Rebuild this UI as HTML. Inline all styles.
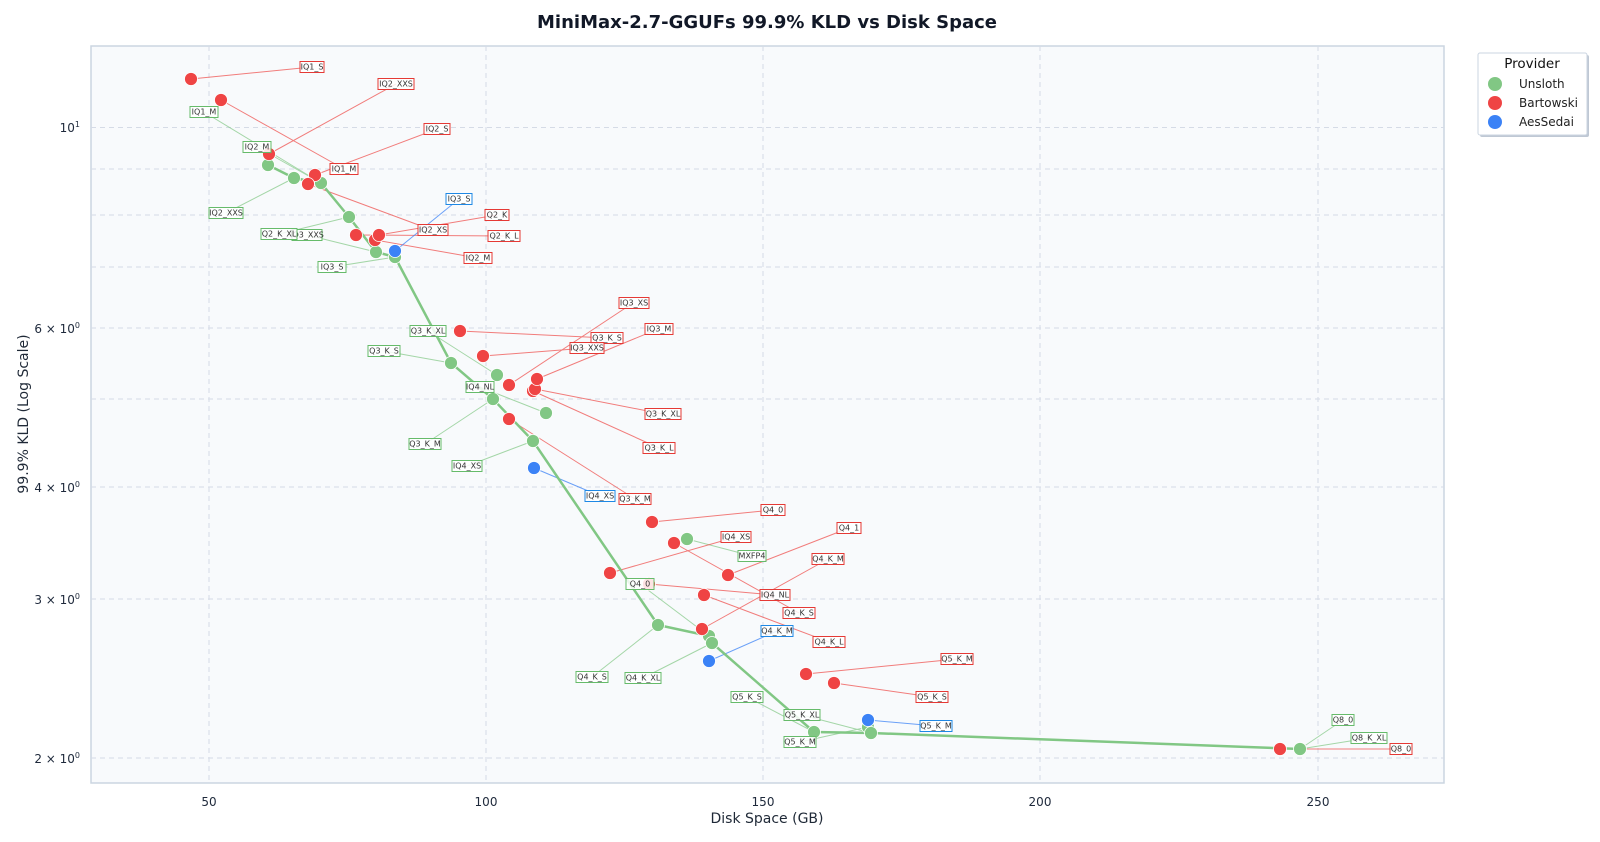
<!DOCTYPE html>
<html><head><meta charset="utf-8"><style>
html,body{margin:0;padding:0;background:#fff;}
svg{display:block;font-family:"DejaVu Sans","Liberation Sans",sans-serif;}
.lb rect{fill:#fff;fill-opacity:0.85;stroke-width:1;}
.lb text{font-size:8px;fill:#333;text-anchor:middle;dominant-baseline:central;}
.g rect{stroke:#66bb6a;} .r rect{stroke:#e53935;} .b rect{stroke:#1e88e5;}
.tk{font-size:12px;fill:#1e293b;}
</style></head><body>
<svg width="1600" height="842" viewBox="0 0 1600 842">
<text x="767" y="28" text-anchor="middle" font-size="18" font-weight="bold" fill="#111827">MiniMax-2.7-GGUFs 99.9% KLD vs Disk Space</text>
<rect x="91" y="46" width="1353" height="737" fill="#f8fafc" stroke="#cbd5e1" stroke-width="1.5"/>
<g stroke="#d5dbe6" stroke-dasharray="5,4" stroke-width="1">
<line x1="209" y1="46" x2="209" y2="783"/><line x1="486" y1="46" x2="486" y2="783"/><line x1="763" y1="46" x2="763" y2="783"/><line x1="1040" y1="46" x2="1040" y2="783"/><line x1="1318" y1="46" x2="1318" y2="783"/>
<line x1="91" y1="127.5" x2="1444" y2="127.5"/><line x1="91" y1="169" x2="1444" y2="169"/><line x1="91" y1="215" x2="1444" y2="215"/><line x1="91" y1="267" x2="1444" y2="267"/><line x1="91" y1="328" x2="1444" y2="328"/><line x1="91" y1="399" x2="1444" y2="399"/><line x1="91" y1="487" x2="1444" y2="487"/><line x1="91" y1="599" x2="1444" y2="599"/><line x1="91" y1="758" x2="1444" y2="758"/>
</g>
<g class="tk" text-anchor="middle">
<text x="209" y="806">50</text><text x="486" y="806">100</text><text x="763" y="806">150</text><text x="1040" y="806">200</text><text x="1318" y="806">250</text>
</g>
<g class="tk" text-anchor="end">
<text x="80" y="132">10<tspan dy="-5" font-size="8">1</tspan></text>
<text x="80" y="333">6 × 10<tspan dy="-5" font-size="8">0</tspan></text>
<text x="80" y="492">4 × 10<tspan dy="-5" font-size="8">0</tspan></text>
<text x="80" y="604">3 × 10<tspan dy="-5" font-size="8">0</tspan></text>
<text x="80" y="763">2 × 10<tspan dy="-5" font-size="8">0</tspan></text>
</g>
<text x="767" y="823" text-anchor="middle" font-size="14" fill="#1f2937">Disk Space (GB)</text>
<text transform="translate(28,414) rotate(-90)" text-anchor="middle" font-size="14" fill="#1f2937">99.9% KLD (Log Scale)</text>

<!-- leader lines -->
<g stroke="#81c784" stroke-width="1" opacity="0.7">
<line x1="204" y1="112" x2="321" y2="183"/><line x1="257" y1="147" x2="321" y2="183"/><line x1="226" y1="213" x2="294" y2="178"/><line x1="279" y1="234" x2="349" y2="217"/><line x1="307" y1="235" x2="376" y2="252"/><line x1="332" y1="267" x2="395" y2="257"/><line x1="428" y1="331" x2="497" y2="375"/><line x1="384" y1="351" x2="451" y2="363"/><line x1="480" y1="387" x2="546" y2="413"/><line x1="425" y1="444" x2="493" y2="399"/><line x1="467" y1="466" x2="533" y2="441"/><line x1="752" y1="556" x2="687" y2="539"/><line x1="640" y1="584" x2="709" y2="636"/><line x1="592" y1="677" x2="658" y2="625"/><line x1="643" y1="678" x2="712" y2="643"/><line x1="747" y1="697" x2="814" y2="732"/><line x1="802" y1="715" x2="871" y2="733"/><line x1="800" y1="742" x2="868" y2="727"/><line x1="1343" y1="720" x2="1300" y2="749"/><line x1="1369" y1="738" x2="1300" y2="749"/>
</g>
<g stroke="#ef5350" stroke-width="1" opacity="0.75">
<line x1="191" y1="79" x2="312" y2="67"/><line x1="221" y1="100" x2="344" y2="169"/><line x1="269" y1="154" x2="396" y2="84"/><line x1="315" y1="175" x2="437" y2="129"/><line x1="308" y1="184" x2="432" y2="230"/><line x1="356" y1="235" x2="504" y2="236"/><line x1="379" y1="235" x2="497" y2="215"/><line x1="375" y1="240" x2="478" y2="258"/><line x1="460" y1="331" x2="607" y2="338"/><line x1="483" y1="356" x2="587" y2="348"/><line x1="509" y1="385" x2="633" y2="303"/><line x1="537" y1="379" x2="658" y2="329"/><line x1="535" y1="389" x2="663" y2="414"/><line x1="533" y1="391" x2="659" y2="448"/><line x1="509" y1="419" x2="635" y2="499"/><line x1="652" y1="522" x2="773" y2="510"/><line x1="674" y1="543" x2="799" y2="613"/><line x1="728" y1="575" x2="849" y2="528"/><line x1="610" y1="573" x2="736" y2="537"/><line x1="649" y1="584" x2="774" y2="595"/><line x1="704" y1="595" x2="829" y2="642"/><line x1="702" y1="629" x2="828" y2="559"/><line x1="806" y1="674" x2="957" y2="659"/><line x1="834" y1="683" x2="932" y2="697"/><line x1="1280" y1="749" x2="1401" y2="749"/>
</g>
<g stroke="#3b82f6" stroke-width="1" opacity="0.75">
<line x1="395" y1="251" x2="459" y2="199"/><line x1="534" y1="468" x2="600" y2="496"/><line x1="709" y1="661" x2="777" y2="631"/><line x1="868" y1="720" x2="936" y2="726"/>
</g>
<!-- frontier -->
<polyline fill="none" stroke="#81c784" stroke-width="2.5" points="268,165 294,178 321,183 349,217 376,252 395,257 451,363 493,399 533,441 658,625 709,636 712,643 814,732 871,733 1300,749"/>
<!-- points -->
<g fill="#81c784" stroke="#fff" stroke-width="0.8">
<circle cx="268" cy="165" r="6.5"/><circle cx="294" cy="178" r="6.5"/><circle cx="321" cy="183" r="6.5"/><circle cx="349" cy="217" r="6.5"/><circle cx="376" cy="252" r="6.5"/><circle cx="395" cy="257" r="6.5"/><circle cx="451" cy="363" r="6.5"/><circle cx="497" cy="375" r="6.5"/><circle cx="493" cy="399" r="6.5"/><circle cx="546" cy="413" r="6.5"/><circle cx="533" cy="441" r="6.5"/><circle cx="687" cy="539" r="6.5"/><circle cx="658" cy="625" r="6.5"/><circle cx="709" cy="636" r="6.5"/><circle cx="712" cy="643" r="6.5"/><circle cx="814" cy="732" r="6.5"/><circle cx="868" cy="727" r="6.5"/><circle cx="871" cy="733" r="6.5"/><circle cx="1300" cy="749" r="6.5"/>
</g>
<g fill="#ef4444" stroke="#fff" stroke-width="0.8">
<circle cx="191" cy="79" r="6.5"/><circle cx="221" cy="100" r="6.5"/><circle cx="269" cy="154" r="6.5"/><circle cx="315" cy="175" r="6.5"/><circle cx="308" cy="184" r="6.5"/><circle cx="356" cy="235" r="6.5"/><circle cx="375" cy="240" r="6.5"/><circle cx="379" cy="235" r="6.5"/><circle cx="460" cy="331" r="6.5"/><circle cx="483" cy="356" r="6.5"/><circle cx="509" cy="385" r="6.5"/><circle cx="533" cy="391" r="6.5"/><circle cx="535" cy="389" r="6.5"/><circle cx="537" cy="379" r="6.5"/><circle cx="509" cy="419" r="6.5"/><circle cx="652" cy="522" r="6.5"/><circle cx="674" cy="543" r="6.5"/><circle cx="728" cy="575" r="6.5"/><circle cx="610" cy="573" r="6.5"/><circle cx="649" cy="584" r="6.5"/><circle cx="704" cy="595" r="6.5"/><circle cx="702" cy="629" r="6.5"/><circle cx="806" cy="674" r="6.5"/><circle cx="834" cy="683" r="6.5"/><circle cx="1280" cy="749" r="6.5"/>
</g>
<g fill="#3b82f6" stroke="#fff" stroke-width="0.8">
<circle cx="395" cy="251" r="6.5"/><circle cx="534" cy="468" r="6.5"/><circle cx="709" cy="661" r="6.5"/><circle cx="868" cy="720" r="6.5"/>
</g>
<!-- labels -->
<g class="lb g">
<rect x="190" y="106.5" width="28" height="11"/><text x="204" y="112">IQ1_M</text>
<rect x="243" y="141.5" width="28" height="11"/><text x="257" y="147">IQ2_M</text>
<rect x="209" y="207.5" width="34" height="11"/><text x="226" y="213">IQ2_XXS</text>
<rect x="292" y="229.5" width="30" height="11"/><text x="307" y="235">IQ3_XXS</text>
<rect x="261" y="228.5" width="36" height="11"/><text x="279" y="234">Q2_K_XL</text>
<rect x="318" y="261.5" width="28" height="11"/><text x="332" y="267">IQ3_S</text>
<rect x="410" y="325.5" width="36" height="11"/><text x="428" y="331">Q3_K_XL</text>
<rect x="368" y="345.5" width="32" height="11"/><text x="384" y="351">Q3_K_S</text>
<rect x="466" y="381.5" width="28" height="11"/><text x="480" y="387">IQ4_NL</text>
<rect x="409" y="438.5" width="32" height="11"/><text x="425" y="444">Q3_K_M</text>
<rect x="452" y="460.5" width="30" height="11"/><text x="467" y="466">IQ4_XS</text>
<rect x="738" y="550.5" width="28" height="11"/><text x="752" y="556">MXFP4</text>
<rect x="626" y="578.5" width="28" height="11"/><text x="640" y="584">Q4_0</text>
<rect x="576" y="671.5" width="32" height="11"/><text x="592" y="677">Q4_K_S</text>
<rect x="625" y="672.5" width="36" height="11"/><text x="643" y="678">Q4_K_XL</text>
<rect x="731" y="691.5" width="32" height="11"/><text x="747" y="697">Q5_K_S</text>
<rect x="784" y="709.5" width="36" height="11"/><text x="802" y="715">Q5_K_XL</text>
<rect x="784" y="736.5" width="32" height="11"/><text x="800" y="742">Q5_K_M</text>
<rect x="1332" y="714.5" width="22" height="11"/><text x="1343" y="720">Q8_0</text>
<rect x="1351" y="732.5" width="36" height="11"/><text x="1369" y="738">Q8_K_XL</text>
</g>
<g class="lb r">
<rect x="300" y="61.5" width="24" height="11"/><text x="312" y="67">IQ1_S</text>
<rect x="378" y="78.5" width="36" height="11"/><text x="396" y="84">IQ2_XXS</text>
<rect x="330" y="163.5" width="28" height="11"/><text x="344" y="169">IQ1_M</text>
<rect x="424" y="123.5" width="26" height="11"/><text x="437" y="129">IQ2_S</text>
<rect x="418" y="224.5" width="30" height="11"/><text x="433" y="230">IQ2_XS</text>
<rect x="485" y="209.5" width="24" height="11"/><text x="497" y="215">Q2_K</text>
<rect x="488" y="230.5" width="32" height="11"/><text x="504" y="236">Q2_K_L</text>
<rect x="464" y="252.5" width="28" height="11"/><text x="478" y="258">IQ2_M</text>
<rect x="619" y="297.5" width="30" height="11"/><text x="634" y="303">IQ3_XS</text>
<rect x="645" y="323.5" width="28" height="11"/><text x="659" y="329">IQ3_M</text>
<rect x="591" y="332.5" width="32" height="11"/><text x="607" y="338">Q3_K_S</text>
<rect x="570" y="342.5" width="34" height="11"/><text x="587" y="348">IQ3_XXS</text>
<rect x="645" y="408.5" width="36" height="11"/><text x="663" y="414">Q3_K_XL</text>
<rect x="643" y="442.5" width="32" height="11"/><text x="659" y="448">Q3_K_L</text>
<rect x="619" y="493.5" width="32" height="11"/><text x="635" y="499">Q3_K_M</text>
<rect x="761" y="504.5" width="24" height="11"/><text x="773" y="510">Q4_0</text>
<rect x="837" y="522.5" width="24" height="11"/><text x="849" y="528">Q4_1</text>
<rect x="721" y="531.5" width="30" height="11"/><text x="736" y="537">IQ4_XS</text>
<rect x="812" y="553.5" width="32" height="11"/><text x="828" y="559">Q4_K_M</text>
<rect x="760" y="589.5" width="30" height="11"/><text x="775" y="595">IQ4_NL</text>
<rect x="783" y="607.5" width="32" height="11"/><text x="799" y="613">Q4_K_S</text>
<rect x="813" y="636.5" width="32" height="11"/><text x="829" y="642">Q4_K_L</text>
<rect x="941" y="653.5" width="32" height="11"/><text x="957" y="659">Q5_K_M</text>
<rect x="916" y="691.5" width="32" height="11"/><text x="932" y="697">Q5_K_S</text>
<rect x="1390" y="743.5" width="22" height="11"/><text x="1401" y="749">Q8_0</text>
</g>
<g class="lb b">
<rect x="446" y="193.5" width="26" height="11"/><text x="459" y="199">IQ3_S</text>
<rect x="585" y="490.5" width="30" height="11"/><text x="600" y="496">IQ4_XS</text>
<rect x="761" y="625.5" width="32" height="11"/><text x="777" y="631">Q4_K_M</text>
<rect x="920" y="720.5" width="32" height="11"/><text x="936" y="726">Q5_K_M</text>
</g>
<!-- legend -->
<rect x="1480" y="55" width="109" height="82" rx="2" fill="#94a3b8" opacity="0.6"/>
<rect x="1478" y="53" width="109" height="82" rx="2" fill="#fff" stroke="#cbd5e1"/>
<text x="1532" y="68" text-anchor="middle" font-size="13.5" fill="#111">Provider</text>
<circle cx="1495" cy="84" r="7" fill="#81c784"/><text x="1519" y="88" font-size="12" fill="#222">Unsloth</text>
<circle cx="1495" cy="103" r="7" fill="#ef4444"/><text x="1519" y="107" font-size="12" fill="#222">Bartowski</text>
<circle cx="1495" cy="122" r="7" fill="#3b82f6"/><text x="1519" y="126" font-size="12" fill="#222">AesSedai</text>
</svg>
</body></html>
